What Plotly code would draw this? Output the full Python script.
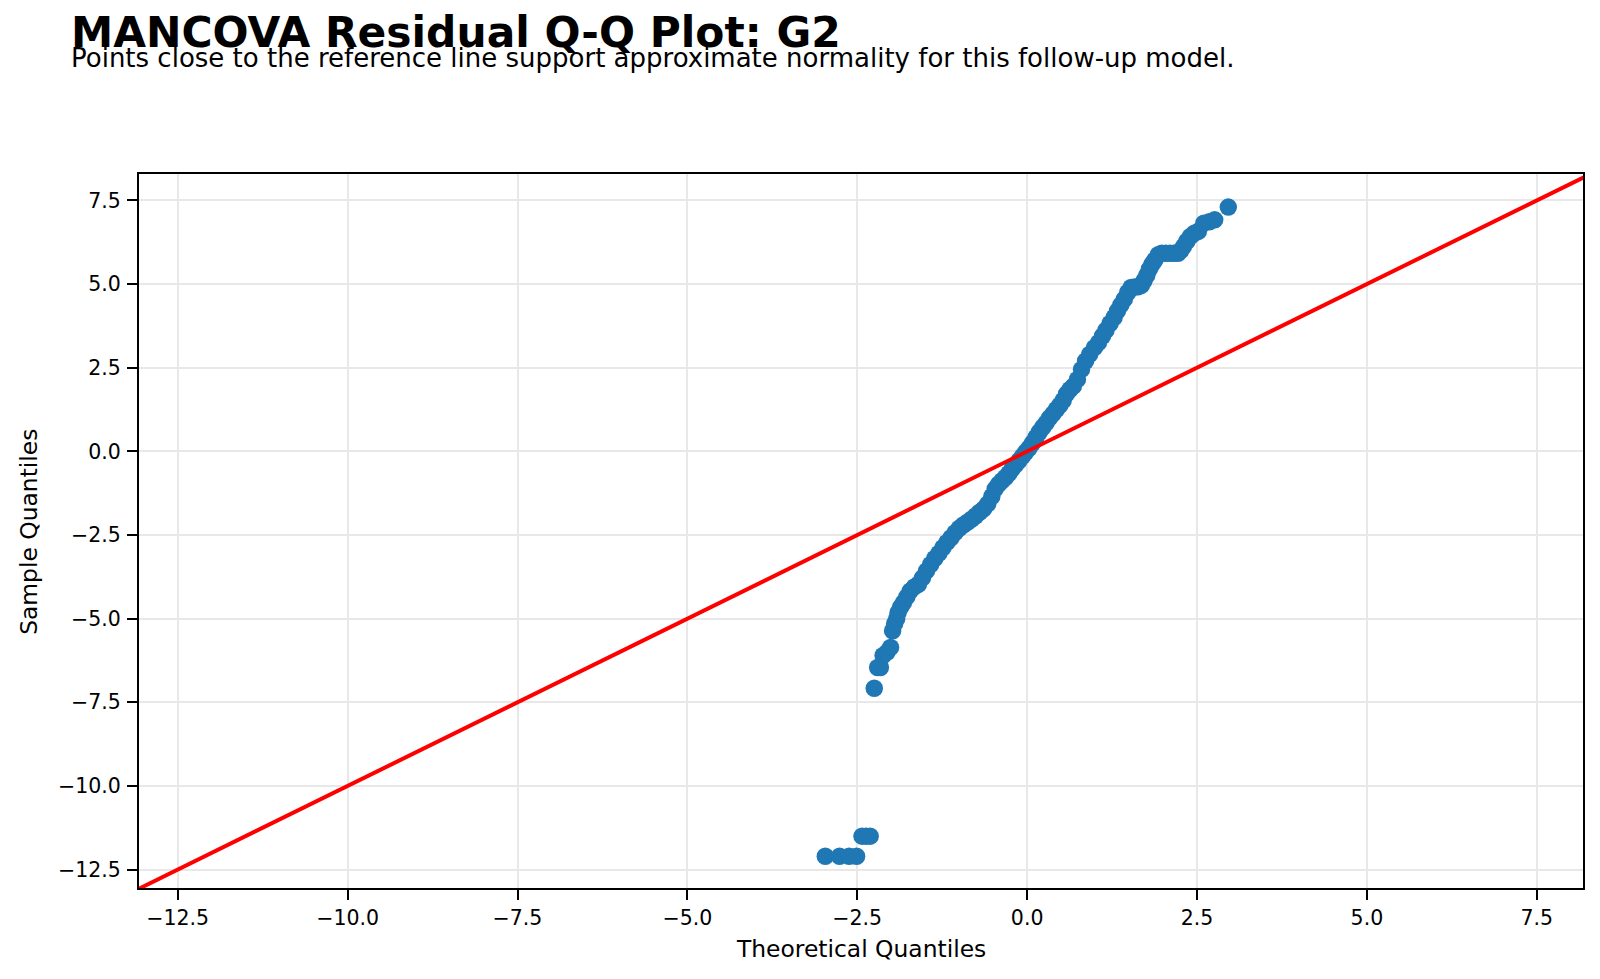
import plotly.graph_objects as go

# Q-Q points (theoretical quantile, sample quantile)
theoretical = [
    -2.97, -2.76, -2.62, -2.51, -2.43, -2.37, -2.31,
    -2.25, -2.20, -2.16, -2.12, -2.06, -2.01, -1.98, -1.95, -1.92, -1.90,
    -1.86, -1.82, -1.77, -1.72, -1.66, -1.60, -1.54, -1.48, -1.42, -1.36,
    -1.30, -1.24, -1.18, -1.12, -1.06, -1.00, -0.94, -0.88, -0.82, -0.76,
    -0.70, -0.64, -0.58, -0.52, -0.47, -0.42, -0.37, -0.32, -0.27, -0.22,
    -0.17, -0.12, -0.07, -0.02, 0.03, 0.08, 0.13, 0.18, 0.23, 0.28, 0.33,
    0.38, 0.43, 0.48, 0.53, 0.58, 0.63, 0.68, 0.74, 0.80, 0.86, 0.92, 0.99,
    1.05, 1.11, 1.16, 1.22, 1.28, 1.33, 1.38, 1.43, 1.48, 1.53, 1.58, 1.63,
    1.68, 1.72, 1.76, 1.80, 1.84, 1.88, 1.93, 1.98, 2.04, 2.10, 2.16, 2.22,
    2.26, 2.30, 2.35, 2.40, 2.46, 2.52, 2.60, 2.68, 2.76, 2.96,
]
sample = [
    -12.1, -12.1, -12.1, -12.1, -11.5, -11.5, -11.5,
    -7.08, -6.46, -6.46, -6.10, -6.00, -5.86, -5.36, -5.15, -5.00, -4.82,
    -4.65, -4.52, -4.35, -4.17, -4.05, -3.97, -3.78, -3.57, -3.38, -3.20,
    -3.05, -2.88, -2.72, -2.58, -2.43, -2.30, -2.20, -2.12, -2.03, -1.93,
    -1.82, -1.72, -1.57, -1.35, -1.12, -0.98, -0.88, -0.78, -0.66, -0.52,
    -0.40, -0.28, -0.15, -0.02, 0.10, 0.25, 0.42, 0.58, 0.72, 0.85, 1.00,
    1.12, 1.25, 1.38, 1.52, 1.72, 1.85, 1.95, 2.15, 2.45, 2.70, 2.90, 3.10,
    3.25, 3.45, 3.62, 3.82, 4.00, 4.20, 4.38, 4.55, 4.75, 4.90, 4.91, 4.92,
    4.96, 5.10, 5.26, 5.45, 5.60, 5.72, 5.88, 5.92, 5.92, 5.92, 5.92, 5.92,
    6.00, 6.12, 6.28, 6.42, 6.52, 6.58, 6.82, 6.86, 6.92, 7.30,
]

# 45-degree reference line end values and axis limits
ref_line = [-13.2, 8.4]
x_range = [-13.07, 8.18]
y_range = [-13.05, 8.29]
tick_vals = [-12.5, -10.0, -7.5, -5.0, -2.5, 0.0, 2.5, 5.0, 7.5]
tick_text = ["\u221212.5", "\u221210.0", "\u22127.5", "\u22125.0", "\u22122.5",
             "0.0", "2.5", "5.0", "7.5"]

title_text = "MANCOVA Residual Q-Q Plot: G2"
subtitle_text = "Points close to the reference line support approximate normality for this follow-up model."

fig = go.Figure()
fig.add_trace(go.Scatter(
    x=theoretical, y=sample, mode="markers",
    marker=dict(color="#1f77b4", size=17.5, line=dict(width=0)),
    showlegend=False, hoverinfo="x+y",
))
fig.add_trace(go.Scatter(
    x=ref_line, y=ref_line, mode="lines",
    line=dict(color="#ff0000", width=4),
    showlegend=False,
))

axis_common = dict(
    showline=True, linecolor="black", linewidth=2, mirror=True,
    ticks="outside", ticklen=10, tickwidth=2, tickcolor="black",
    showgrid=True, gridcolor="#e8e8e8", gridwidth=1.6,
    zeroline=False,
    tickfont=dict(family="DejaVu Sans", size=20.5, color="black"),
    tickvals=tick_vals, ticktext=tick_text,
)

fig.update_layout(
    width=1600, height=979,
    paper_bgcolor="white", plot_bgcolor="white",
    margin=dict(l=139, r=17, t=174, b=91, pad=0),
    xaxis=dict(range=x_range, **axis_common),
    yaxis=dict(range=y_range, ticklabelstandoff=2, **axis_common),
    font=dict(family="DejaVu Sans", color="black"),
    annotations=[
        dict(text="<b>" + title_text + "</b>", xref="paper", yref="paper",
             x=-0.0485, y=(887.8 - 33) / 713.3, xanchor="left", yanchor="middle",
             showarrow=False, font=dict(family="DejaVu Sans", size=42.4, color="black")),
        dict(text=subtitle_text, xref="paper", yref="paper",
             x=-0.0485, y=(887.8 - 59) / 713.3, xanchor="left", yanchor="middle",
             showarrow=False, font=dict(family="DejaVu Sans", size=26, color="black")),
        dict(text="Theoretical Quantiles", xref="paper", yref="paper",
             x=(861 - 139) / 1444, y=(887.8 - 949) / 713.3, xanchor="center", yanchor="middle",
             showarrow=False, font=dict(family="DejaVu Sans", size=23.4, color="black")),
        dict(text="Sample Quantiles", xref="paper", yref="paper",
             x=(29 - 139) / 1444, y=(887.8 - 532) / 713.3, xanchor="center", yanchor="middle",
             textangle=-90,
             showarrow=False, font=dict(family="DejaVu Sans", size=23.4, color="black")),
    ],
)

fig.write_html("out.html")
